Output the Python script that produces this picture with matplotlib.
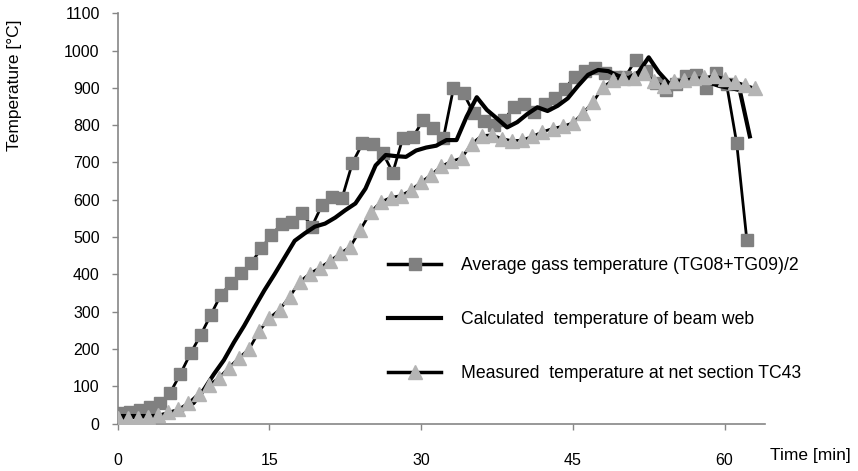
import matplotlib
matplotlib.use("Agg")
import matplotlib.pyplot as plt
from matplotlib import font_manager
from matplotlib.lines import Line2D
import numpy as np

names = {f.name for f in font_manager.fontManager.ttflist}
BASE = "Liberation Sans" if "Liberation Sans" in names else "DejaVu Sans"
plt.rcParams["font.family"] = [BASE, "DejaVu Sans"]

# average gas temperature (TG08+TG09)/2, one reading per minute
gas_temp = [27, 32, 36, 43, 56, 83, 133, 188, 237, 291, 345, 376, 403, 430, 470,
            505, 535, 541, 565, 528, 586, 608, 606, 698, 751, 749, 726, 673, 766, 768,
            814, 792, 765, 899, 885, 832, 812, 800, 814, 850, 856, 834, 856, 874, 898,
            930, 945, 954, 940, 930, 930, 975, 945, 912, 894, 910, 932, 935, 899, 941,
            910, 752, 493]

# calculated temperature of the beam web
calc_temp = [20, 20, 20, 20, 22, 28, 38, 55, 90, 132, 170, 218, 262, 310, 357,
             400, 445, 490, 510, 528, 536, 552, 572, 590, 630, 692, 720, 717, 715, 732,
             740, 745, 760, 760, 823, 875, 841, 818, 794, 808, 830, 848, 838, 852, 872,
             905, 935, 948, 945, 932, 926, 942, 982, 942, 912, 913, 917, 921, 914, 905,
             900, 894, 770]

# measured temperature at net section TC43
tc43_temp = [14, 15, 16, 18, 22, 30, 38, 55, 80, 103, 122, 150, 176, 200, 248,
             283, 305, 340, 380, 402, 418, 436, 456, 474, 520, 566, 594, 606, 611, 626,
             647, 667, 690, 703, 712, 750, 772, 774, 764, 758, 760, 770, 782, 791, 797,
             806, 832, 862, 903, 921, 926, 926, 940, 918, 905, 918, 920, 926, 928, 932,
             925, 917, 908, 899]

gas_time = np.arange(len(gas_temp)) + 0.2
calc_time = np.arange(len(calc_temp)) + 0.5
tc43_time = np.arange(len(tc43_temp))

x_ticks = [0, 15, 30, 45, 60]
y_ticks = list(range(0, 1101, 100))

labels = [
    "Average gass temperature (TG08+TG09)/2",
    "Calculated  temperature of beam web",
    "Measured  temperature at net section TC43",
]

AXIS_GREY = "#868686"
SQUARE_GREY = "#808080"
TRIANGLE_GREY = "#b4b4b4"

fig = plt.figure(figsize=(8.58, 4.71), dpi=100)
ax = fig.add_axes([117.7 / 858, 47.5 / 471, 647.3 / 858, 410.2 / 471])

ax.plot(gas_time, gas_temp, color="black", lw=2.0, marker="s", ms=9,
        mfc=SQUARE_GREY, mec=SQUARE_GREY, zorder=3)
ax.plot(calc_time, calc_temp, color="black", lw=3.0, zorder=4)
ax.plot(tc43_time, tc43_temp, color="black", lw=2.0, marker="^", ms=10.5,
        mfc=TRIANGLE_GREY, mec=TRIANGLE_GREY, zorder=5)

ax.set_xlim(0, 64)
ax.set_ylim(0, 1100)
ax.set_xticks(x_ticks)
ax.set_yticks(y_ticks)
ax.tick_params(axis="both", colors=AXIS_GREY, labelcolor="black", labelsize=11.5,
               length=4, width=1)
ax.tick_params(axis="x", pad=17)
ax.tick_params(axis="y", pad=9)
for side in ["top", "right"]:
    ax.spines[side].set_visible(False)
for side in ["left", "bottom"]:
    ax.spines[side].set_color(AXIS_GREY)
    ax.spines[side].set_linewidth(1.2)

fig.text(15 / 858, 1 - 85 / 471, "Temperature [°C]", rotation=90,
         ha="center", va="center", fontsize=12.5)
ax.text(1.008, -0.077, "Time [min]", transform=ax.transAxes,
        ha="left", va="center", fontsize=12.5)

handles = [
    Line2D([], [], color="black", lw=2.5, marker="s", ms=9, mfc=SQUARE_GREY, mec=SQUARE_GREY),
    Line2D([], [], color="black", lw=3.0),
    Line2D([], [], color="black", lw=2.5, marker="^", ms=10.5, mfc=TRIANGLE_GREY, mec=TRIANGLE_GREY),
]
ax.legend(handles, labels, loc="upper left", bbox_to_anchor=(0.418, 0.405),
          frameon=False, fontsize=12.7, handlelength=3.0, handletextpad=1.1,
          labelspacing=2.1, borderpad=0, borderaxespad=0)

fig.savefig("out.png", dpi=100)
